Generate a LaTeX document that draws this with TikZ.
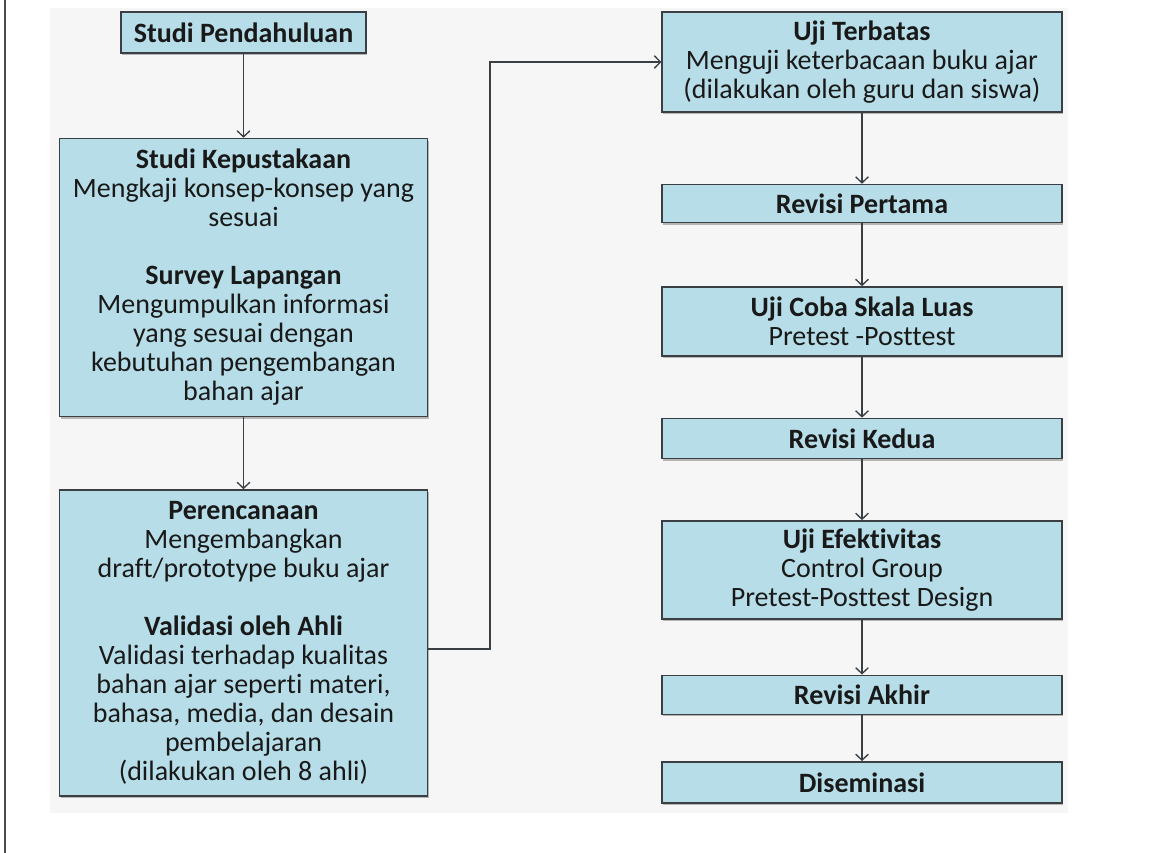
\documentclass[tikz,border=0pt]{standalone}
\usepackage{fontspec}
\setmainfont{Carlito}[RawFeature={-liga;-clig;-dlig;-calt}]
\usepackage{xcolor}
\usetikzlibrary{arrows.meta, positioning, shadows}
\definecolor{boxblue}{HTML}{B7DEE8}
\definecolor{boxline}{HTML}{3A3F44}
\definecolor{pagegray}{HTML}{F6F6F6}

\begin{document}
\begin{tikzpicture}[
			x=0.75pt, y=-0.75pt,
			every node/.style={draw=boxline, fill=boxblue, rectangle, align=center, inner sep=0pt, line width=1.1pt, text=black!90, font=\fontsize{21}{21.75}\selectfont, drop shadow={shadow xshift=0.8pt, shadow yshift=-1.6pt, fill=black!45, opacity=0.6}},
			topbox/.style={minimum width=183.75pt, minimum height=30.75pt},
			leftbox/.style={minimum width=276pt},
			rightbox/.style={minimum width=300pt},
			arrow/.style={-{Straight Barb[length=4.5pt, width=9.5pt]}, draw=boxline, line width=1pt}
			]
			
			% Background
			\useasboundingbox (0,0) rectangle (1157,853);
			\fill [pagegray] (50,8) rectangle (1068,813);
			\draw [black!70, line width=0.8pt] (5,0) -- (5,853);
			
			% Left column
			\node (pendahuluan) [topbox] at (243.5,32.5) {\textbf{Studi Pendahuluan}};
			\node (pustaka) [leftbox, minimum height=208.5pt, below=63pt of pendahuluan] {\textbf{Studi Kepustakaan}\\ Mengkaji konsep-konsep yang\\ sesuai\\[21.75pt] \textbf{Survey Lapangan}\\ Mengumpulkan informasi\\ yang sesuai dengan\\ kebutuhan pengembangan\\ bahan ajar};
			\node (rencana) [leftbox, minimum height=229.5pt, below=54pt of pustaka] {\textbf{Perencanaan}\\ Mengembangkan\\ draft/prototype buku ajar\\[21.75pt] \textbf{Validasi oleh Ahli}\\ Validasi terhadap kualitas\\ bahan ajar seperti materi,\\ bahasa, media, dan desain\\ pembelajaran\\ (dilakukan oleh 8 ahli)};
			
			% Right column
			\node (terbatas) [rightbox, minimum height=75pt] at (862,62) {\textbf{Uji Terbatas}\\ Menguji keterbacaan buku ajar\\ (dilakukan oleh guru dan siswa)};
			\node (revisi1) [rightbox, minimum height=28.5pt, below=53.25pt of terbatas] {\textbf{Revisi Pertama}};
			\node (skala) [rightbox, minimum height=51.75pt, below=47.25pt of revisi1] {\textbf{Uji Coba Skala Luas}\\ Pretest -Posttest};
			\node (revisi2) [rightbox, minimum height=30pt, below=45.75pt of skala] {\textbf{Revisi Kedua}};
			\node (efektif) [rightbox, minimum height=73.5pt, below=45.75pt of revisi2] {\textbf{Uji Efektivitas}\\ Control Group\\ Pretest-Posttest Design};
			\node (akhir) [rightbox, minimum height=29.25pt, below=41.25pt of efektif] {\textbf{Revisi Akhir}};
			\node (diseminasi) [rightbox, minimum height=30.75pt, below=34.5pt of akhir] {\textbf{Diseminasi}};
			
			\coordinate (elbow) at (490,62);
			
			% Connections
			\draw [arrow] (pendahuluan) -- (pustaka);
			\draw [arrow] (pustaka) -- (rencana);
			\draw [arrow] ([yshift=-4.5pt]rencana.east) -| (elbow) -- (terbatas.west);
			\draw [arrow] (terbatas) -- (revisi1);
			\draw [arrow] (revisi1) -- (skala);
			\draw [arrow] (skala) -- (revisi2);
			\draw [arrow] (revisi2) -- (efektif);
			\draw [arrow] (efektif) -- (akhir);
			\draw [arrow] (akhir) -- (diseminasi);
			
		\end{tikzpicture}
\end{document}
